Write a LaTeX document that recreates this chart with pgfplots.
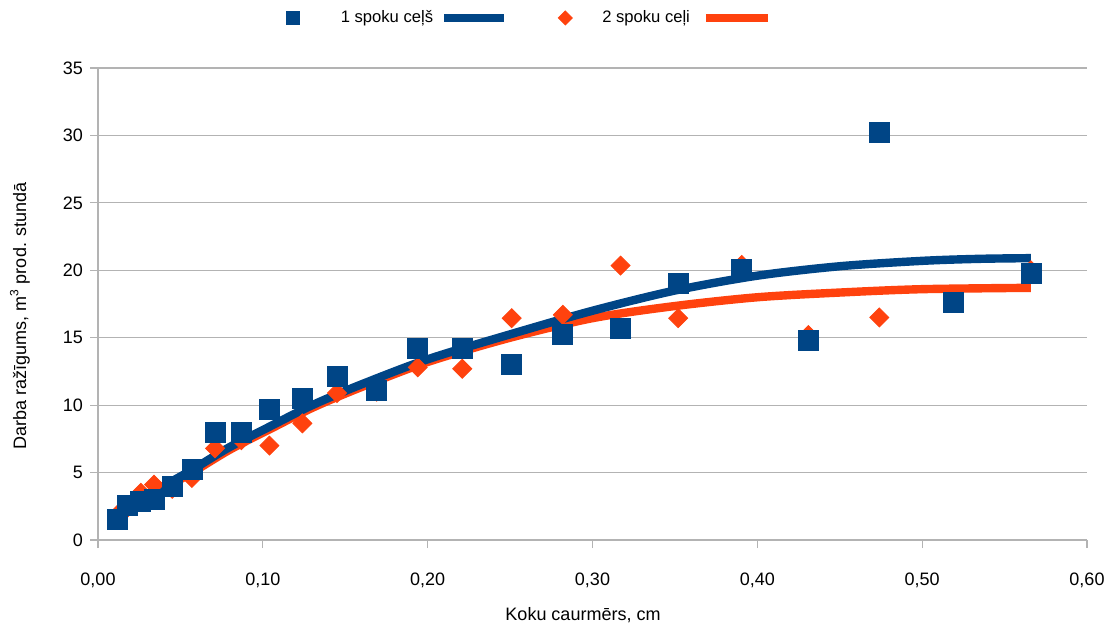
\documentclass[border=0pt]{standalone}
\usepackage{fontspec}
\setmainfont{Liberation Sans}
\usepackage{pgfplots}
\pgfplotsset{compat=1.18}
\definecolor{cblue}{HTML}{004586}
\definecolor{corange}{HTML}{FF420E}
\definecolor{cgrid}{HTML}{B3B3B3}

\pgfplotstableread{
x y
0.012 1.5
0.018 2.6
0.026 2.85
0.034 3.0
0.045 4.0
0.057 5.2
0.071 8.0
0.087 8.0
0.104 9.7
0.124 10.5
0.145 12.1
0.169 11.1
0.194 14.2
0.221 14.2
0.251 13.05
0.282 15.25
0.317 15.7
0.352 19.0
0.3905 20.05
0.431 14.8
0.474 30.25
0.519 17.6
0.566 19.8
}\blueset

\pgfplotstableread{
x y
0.012 1.9
0.018 2.4
0.026 3.5
0.034 4.1
0.045 3.8
0.057 4.6
0.071 6.8
0.087 7.4
0.104 7.0
0.124 8.65
0.145 10.9
0.169 11.0
0.194 12.8
0.221 12.7
0.251 16.45
0.282 16.7
0.317 20.35
0.352 16.45
0.3905 20.4
0.431 15.2
0.474 16.5
0.519 18.0
0.566 20.0
}\orangeset

\pgfplotstableread{
x y
0.012 1.75
0.03 3.3
0.057 5.2
0.08 6.9
0.104 8.4
0.13 10.0
0.159 11.5
0.2 13.4
0.25 15.25
0.3 17.0
0.35 18.5
0.4 19.6
0.45 20.3
0.5 20.7
0.535 20.85
0.566 20.9
}\bluetrend

\pgfplotstableread{
x y
0.012 1.65
0.03 3.1
0.057 5.0
0.08 6.7
0.104 8.2
0.13 9.8
0.159 11.3
0.2 13.2
0.25 15.0
0.3 16.45
0.35 17.35
0.4 18.0
0.45 18.35
0.5 18.6
0.566 18.7
}\orangetrend

\begin{document}
\begin{tikzpicture}[font=\fontsize{9}{11}\selectfont]
\begin{axis}[
  scale only axis, width=494.5pt, height=236pt,
  xmin=0, xmax=0.6, ymin=0, ymax=35,
  xtick={0,0.1,0.2,0.3,0.4,0.5,0.6},
  ytick={0,5,10,15,20,25,30,35},
  axis x line=bottom, axis y line=left,
  axis line style={draw=cgrid, line width=0.6pt, -},
  ymajorgrids, grid style={draw=cgrid, line width=0.6pt},
  tick style={draw=cgrid, line width=0.6pt},
  tick align=outside, major tick length=4pt,
  /pgf/number format/assume math mode=true,
  xticklabel style={yshift=-9pt, /pgf/number format/.cd, fixed, fixed zerofill, precision=2, use comma},
  yticklabel style={/pgf/number format/.cd, fixed, precision=0},
  xlabel={Koku caurmērs, cm},
  ylabel={Darba ražīgums, m\textsuperscript{3} prod. stundā},
  xlabel style={at={(axis description cs:0.4904,-0.159)}, anchor=center},
  ylabel style={at={(axis description cs:-0.0789,0.4746)}, anchor=center},
  legend columns=4,
  legend style={draw=none, fill=none, at={(axis description cs:0.1896,1.106)}, anchor=west,
    inner sep=0pt, column sep=0pt, nodes={inner sep=0pt, font=\fontsize{8.3}{10}\selectfont}},
  clip=false,
]
\addlegendimage{legend image code/.code={\path[draw=none,fill=none] (0,0) -- (27.25pt,0); \fill[cblue] (0,-3.25pt) rectangle (6.5pt,3.25pt);}}
\addlegendentry{1 spoku ceļš}
\addlegendimage{legend image code/.code={\path[draw=none,fill=none] (0,0) -- (35.5pt,0); \draw[cblue, line width=4.2pt] (5.5pt,0) -- (35.5pt,0);}}
\addlegendentry{}
\addlegendimage{legend image code/.code={\path[draw=none,fill=none] (0,0) -- (46pt,0); \fill[corange] (24pt,0) -- (27.5pt,3.5pt) -- (31pt,0) -- (27.5pt,-3.5pt) -- cycle;}}
\addlegendentry{2 spoku ceļi}
\addlegendimage{legend image code/.code={\path[draw=none,fill=none] (0,0) -- (39pt,0); \draw[corange, line width=4.2pt] (8pt,0) -- (39pt,0);}}
\addlegendentry{}

\addplot[only marks, mark=square*, mark size=3.36pt, mark options={rotate=45, fill=corange, draw=corange}, forget plot] table {\orangeset};
\addplot[only marks, mark=square*, mark size=5pt, mark options={fill=cblue, draw=cblue}, forget plot] table {\blueset};
\addplot[corange, line width=4.2pt, smooth, no marks, forget plot] table {\orangetrend};
\addplot[cblue, line width=4.2pt, smooth, no marks, forget plot] table {\bluetrend};
\end{axis}
\pgfresetboundingbox
\useasboundingbox ([shift={(-49pt,-44pt)}]current axis.south west) rectangle ([shift={(13pt,34pt)}]current axis.north east);
\end{tikzpicture}
\end{document}
